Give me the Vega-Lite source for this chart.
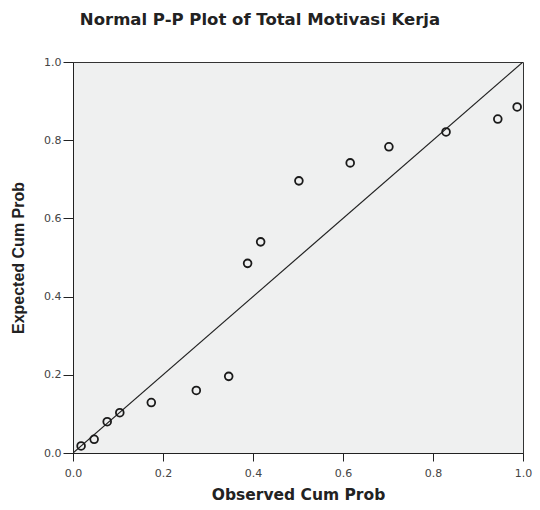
{
  "$schema": "https://vega.github.io/schema/vega-lite/v6.json",
  "width": 450,
  "height": 391,
  "autosize": "none",
  "padding": {"left": 73, "top": 62, "right": 17, "bottom": 57},
  "background": "white",
  "title": {"text": "Normal P-P Plot of Total Motivasi Kerja", "font": "DejaVu Sans", "fontSize": 16.5, "fontWeight": "bold", "color": "#222", "anchor": "middle", "offset": 28, "dx": -38},
  "config": {
    "view": {"fill": "#eff0f0", "stroke": "#333", "strokeWidth": 1},
    "axis": {"grid": false, "domainColor": "#222", "tickColor": "#222", "tickSize": 8, "labelFlush": false, "labelOverlap": false, "labelFont": "DejaVu Sans", "labelFontSize": 11, "labelColor": "#444", "titleFont": "DejaVu Sans", "titleFontSize": 15.5, "titleFontWeight": "bold", "titleColor": "#222"}
  },
  "layer": [
    {
      "data": {"values": [{"x": 0, "y": 0}, {"x": 1, "y": 1}]},
      "mark": {"type": "line", "color": "#222", "strokeWidth": 1.2, "clip": true},
      "encoding": {
        "x": {"field": "x", "type": "quantitative"},
        "y": {"field": "y", "type": "quantitative"}
      }
    },
    {
      "data": {"values": [
        {"obs": 0.018, "exp": 0.018},
        {"obs": 0.047, "exp": 0.035},
        {"obs": 0.076, "exp": 0.080},
        {"obs": 0.104, "exp": 0.103},
        {"obs": 0.174, "exp": 0.129},
        {"obs": 0.274, "exp": 0.160},
        {"obs": 0.346, "exp": 0.196},
        {"obs": 0.388, "exp": 0.485},
        {"obs": 0.417, "exp": 0.540},
        {"obs": 0.502, "exp": 0.696},
        {"obs": 0.616, "exp": 0.742},
        {"obs": 0.702, "exp": 0.783},
        {"obs": 0.829, "exp": 0.821},
        {"obs": 0.944, "exp": 0.854},
        {"obs": 0.987, "exp": 0.885}
      ]},
      "mark": {"type": "point", "shape": "circle", "filled": false, "color": "#1a1a1a", "strokeWidth": 1.8, "size": 60, "opacity": 1},
      "encoding": {
        "x": {"field": "obs", "type": "quantitative", "title": "Observed Cum Prob", "scale": {"domain": [0, 1], "nice": false}, "axis": {"values": [0, 0.2, 0.4, 0.6, 0.8, 1.0], "format": ".1f", "labelPadding": 6, "titlePadding": 9}},
        "y": {"field": "exp", "type": "quantitative", "title": "Expected Cum Prob", "scale": {"domain": [0, 1], "nice": false}, "axis": {"values": [0, 0.2, 0.4, 0.6, 0.8, 1.0], "format": ".1f", "tickSize": 10, "labelPadding": 2, "titleFont": "Liberation Sans", "titleFontSize": 16, "titlePadding": 17}}
      }
    }
  ]
}
